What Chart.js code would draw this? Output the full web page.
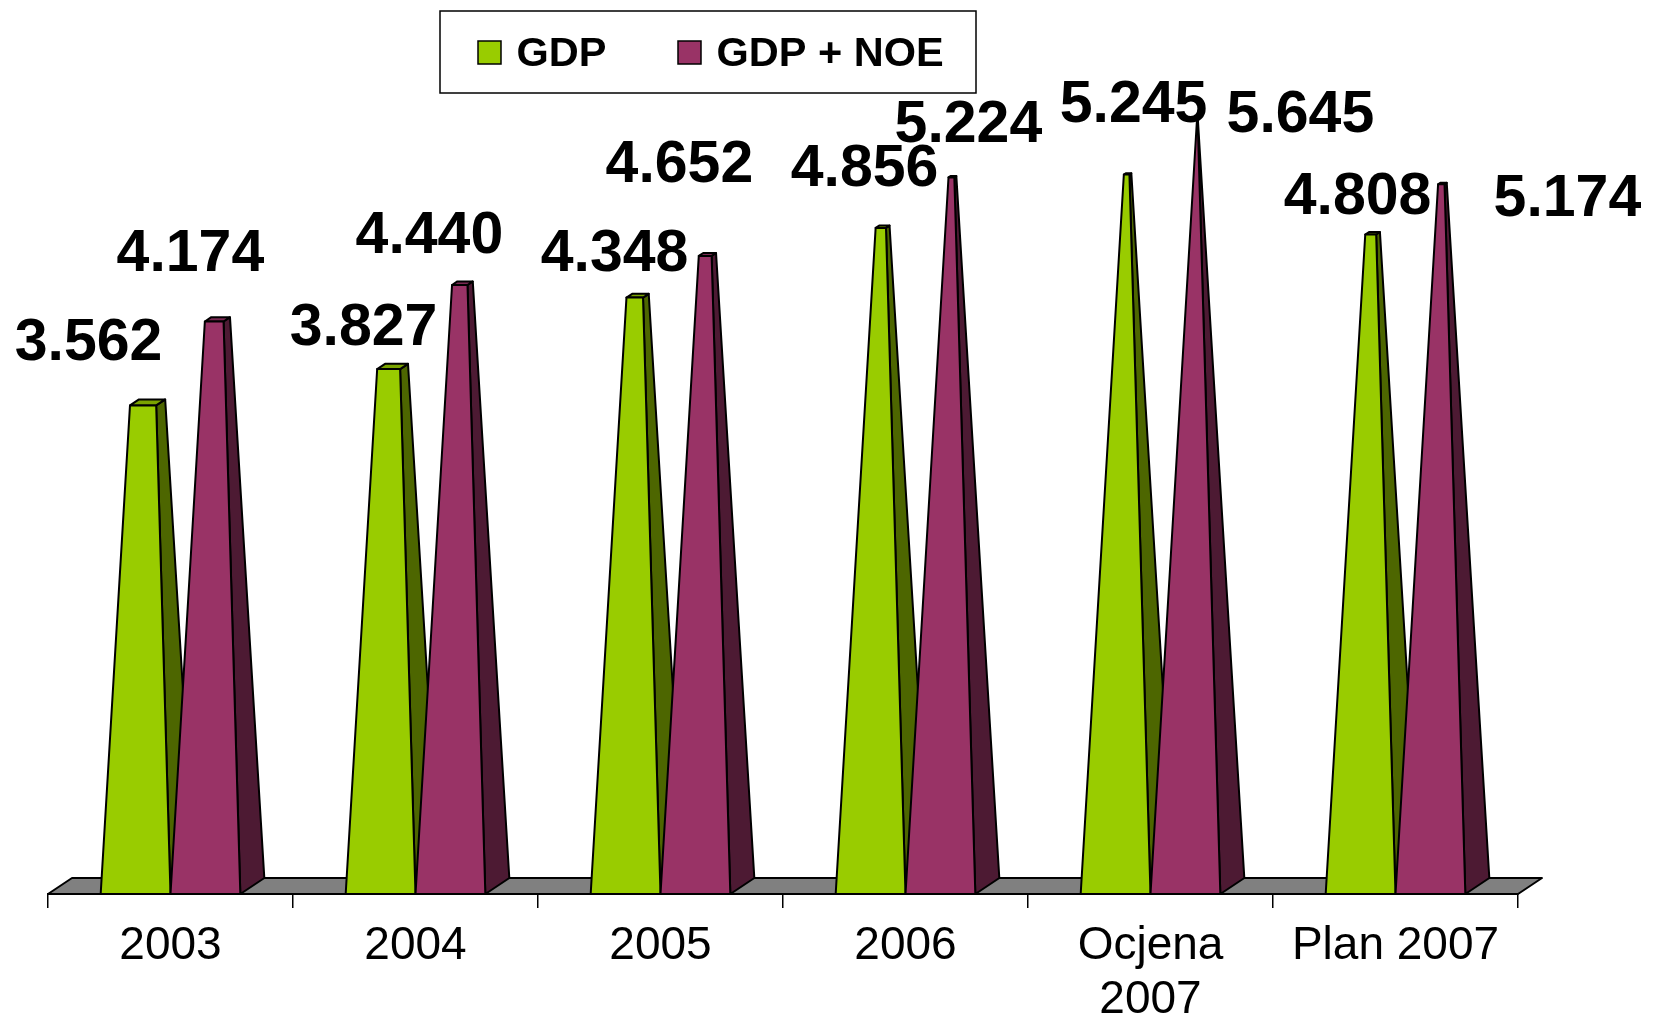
<!DOCTYPE html>
<html>
<head>
<meta charset="utf-8">
<style>
  html, body { margin: 0; padding: 0; background: #fff; }
  canvas { display: block; }
</style>
<script src="https://cdn.jsdelivr.net/npm/chart.js@4"></script>
</head>
<body>
<canvas id="myChart" width="1660" height="1014"></canvas>
<script>
const categories = ['2003', '2004', '2005', '2006', ['Ocjena', '2007'], 'Plan 2007'];
const gdp = [3562, 3827, 4348, 4856, 5245, 4808];
const gdpNoe = [4174, 4440, 4652, 5224, 5645, 5174];
const seriesNames = ['GDP', 'GDP + NOE'];

// where each value label sits, relative to the top of its bar
const gdpLabelOffsets = [[-47, -62], [-17, -40], [-11, -43], [-6, -58], [18, -69], [-3, -37]];
const noeLabelOffsets = [[-15, -67], [-21, -48], [-16, -90], [28, -52], [115, -4], [137, 15]];

const sideColours = { '#99CC00': '#4D6600', '#993366': '#4D1A33' };
const topColours = { '#99CC00': '#7AA300', '#993366': '#7A2952' };

// 3D look: all pyramids share one apex height, the depth shrinks toward it
const apexValue = 5700;
const depthX = 24;
const depthY = 16;

function polygon(ctx, points, fill) {
  ctx.beginPath();
  points.forEach((p, i) => (i ? ctx.lineTo(p[0], p[1]) : ctx.moveTo(p[0], p[1])));
  ctx.closePath();
  ctx.fillStyle = fill;
  ctx.fill();
  ctx.stroke();
}

function drawPyramids(chart, meta, colour) {
  const { ctx, scales } = chart;
  const apexY = scales.y.getPixelForValue(apexValue);
  meta.data.forEach((bar) => {
    const left = bar.x - bar.width / 2;
    const right = bar.x + bar.width / 2;
    const apexX = bar.x + depthX / 2;
    const t = (bar.base - bar.y) / (bar.base - apexY);
    const rise = (p) => [p[0] + (apexX - p[0]) * t, p[1] + (apexY - p[1]) * t];
    const frontLeft = [left, bar.base];
    const frontRight = [right, bar.base];
    const backRight = [right + depthX, bar.base - depthY];
    const backLeft = [left + depthX, bar.base - depthY];
    polygon(ctx, [frontRight, backRight, rise(backRight), rise(frontRight)], sideColours[colour]);
    polygon(ctx, [rise(frontLeft), rise(frontRight), rise(backRight), rise(backLeft)], topColours[colour]);
    polygon(ctx, [frontLeft, frontRight, rise(frontRight), rise(frontLeft)], colour);
  });
}

const pyramidPlugin = {
  id: 'pyramid',
  beforeDatasetsDraw(chart) {
    const { ctx, chartArea } = chart;
    const b = chartArea.bottom;
    ctx.save();
    ctx.strokeStyle = '#000';
    ctx.lineWidth = 2;
    ctx.lineJoin = 'round';
    // floor first, then GDP, then GDP + NOE on top of it
    polygon(ctx, [
      [chartArea.left, b],
      [chartArea.right, b],
      [chartArea.right + depthX, b - depthY],
      [chartArea.left + depthX, b - depthY],
    ], '#808080');
    chart.data.datasets.forEach((ds, d) => drawPyramids(chart, chart.getDatasetMeta(d), ds.backgroundColor));
    ctx.restore();
  },
  // the plain bars are replaced by the pyramids above
  beforeDatasetDraw() {
    return false;
  },
};

const valueLabelPlugin = {
  id: 'valueLabels',
  afterDatasetsDraw(chart) {
    const { ctx } = chart;
    const offsets = [gdpLabelOffsets, noeLabelOffsets];
    ctx.save();
    ctx.font = 'bold 59px "Liberation Sans"';
    ctx.fillStyle = '#000';
    ctx.textAlign = 'center';
    ctx.textBaseline = 'middle';
    chart.data.datasets.forEach((ds, d) => {
      chart.getDatasetMeta(d).data.forEach((bar, i) => {
        const text = String(ds.data[i]).replace(/(\d)(\d{3})$/, '$1.$2');
        ctx.fillText(text, bar.x + offsets[d][i][0], bar.y + offsets[d][i][1]);
      });
    });
    ctx.restore();
  },
};

const legendBoxPlugin = {
  id: 'legendBox',
  afterDraw(chart) {
    const { ctx } = chart;
    const swatchX = [478, 678];
    ctx.save();
    ctx.strokeStyle = '#000';
    ctx.lineWidth = 1.5;
    ctx.strokeRect(440, 11, 536, 82);
    ctx.font = 'bold 41.5px "Liberation Sans"';
    ctx.textBaseline = 'middle';
    chart.data.datasets.forEach((ds, d) => {
      ctx.fillStyle = ds.backgroundColor;
      ctx.fillRect(swatchX[d], 41, 23, 23);
      ctx.strokeRect(swatchX[d], 41, 23, 23);
      ctx.fillStyle = '#000';
      ctx.fillText(ds.label, swatchX[d] + 38.5, 55);
    });
    ctx.restore();
  },
};

const ctx = document.getElementById('myChart');
new Chart(ctx, {
  type: 'bar',
  data: {
    labels: categories,
    datasets: [
      { label: seriesNames[0], data: gdp, backgroundColor: '#99CC00' },
      { label: seriesNames[1], data: gdpNoe, backgroundColor: '#993366' },
    ],
  },
  plugins: [pyramidPlugin, valueLabelPlugin, legendBoxPlugin],
  options: {
    responsive: false,
    animation: false,
    layout: { padding: { left: 48, right: 142, top: 71, bottom: 0 } },
    datasets: { bar: { categoryPercentage: 0.57, barPercentage: 1 } },
    plugins: { legend: { display: false }, tooltip: { enabled: false } },
    scales: {
      y: { display: false, min: 0, max: 6000 },
      x: {
        afterFit(scale) {
          scale.height = 120;
        },
        grid: { offset: true, drawOnChartArea: false, color: '#000', lineWidth: 1.5, tickLength: 14 },
        border: { color: '#000', width: 2 },
        ticks: {
          color: '#000',
          font: { family: '"Liberation Sans"', size: 46, lineHeight: 1.18 },
          padding: 11,
          maxRotation: 0,
          autoSkip: false,
        },
      },
    },
  },
});
</script>
</body>
</html>
